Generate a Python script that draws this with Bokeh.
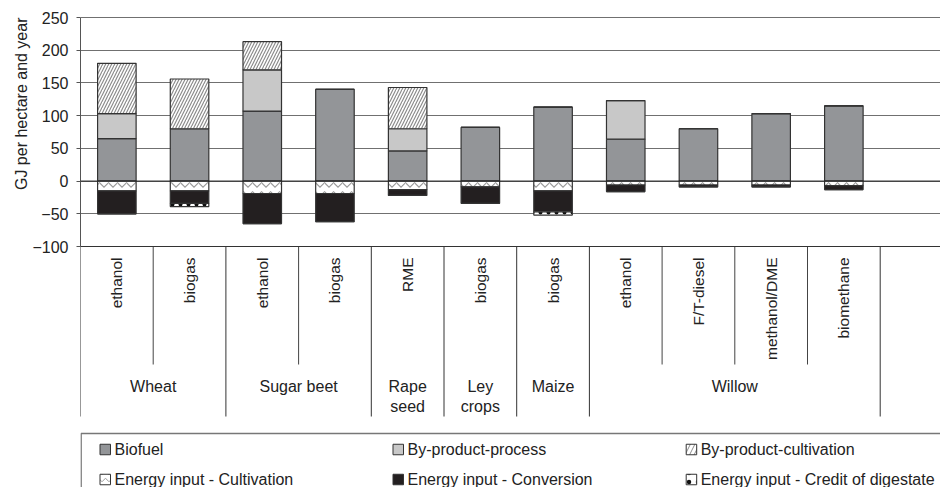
import numpy as np
from bokeh.plotting import figure
from bokeh.models import Range1d, FixedTicker, Span, ColumnDataSource, Title
from bokeh.core.properties import value
from bokeh.embed import file_html
from bokeh.resources import INLINE

# ---- data (GJ per hectare and year) ----
products = ["ethanol", "biogas", "ethanol", "biogas", "RME", "biogas", "biogas",
            "ethanol", "F/T-diesel", "methanol/DME", "biomethane"]
crops = ["Wheat", "Sugar beet", "Rape\nseed", "Ley\ncrops", "Maize", "Willow"]
crop_sizes = [2, 2, 1, 1, 1, 4]

biofuel = [65, 80, 107, 140, 46, 82, 113, 64, 80, 103, 115]
byproduct_process = [38, 0, 63, 0, 34, 0, 0, 59, 0, 0, 0]
byproduct_cultivation = [77, 76, 43, 0, 63, 0, 0, 0, 0, 0, 0]
input_cultivation = [15, 15, 19, 19, 13, 9, 15, 6, 6, 6, 7]
input_conversion = [35, 19, 46, 43, 9, 25, 32, 10, 3, 3, 6]
credit_digestate = [0, 5, 0, 0, 0, 0, 5, 0, 0, 0, 0]

y_ticks = [-100, -50, 0, 50, 100, 150, 200, 250]
y_title = "GJ per hectare and year"
legend_labels = ["Biofuel", "By-product-process", "By-product-cultivation",
                 "Energy input - Cultivation", "Energy input - Conversion",
                 "Energy input - Credit of digestate"]

# ---- layout helpers ----
W, H = 940, 487
LEFT = 80            # left edge of the plotting frame (px)
SLOT = 72.7          # px per category slot
PX_PER_GJ = 229 / 350
Y_TOP_PX = 17        # pixel row of the 250 gridline
FONT = "Liberation Sans"
TXT = "#222222"

x_end = (W - LEFT) / SLOT
y_hi = 250 + Y_TOP_PX / PX_PER_GJ
y_lo = 250 - (H - Y_TOP_PX) / PX_PER_GJ


def xpx(px):
    return (px - LEFT) / SLOT


def ypx(py):
    return 250 - (py - Y_TOP_PX) / PX_PER_GJ


n = len(products)
centers = [i + 0.5 for i in range(n)]

p = figure(width=W, height=H, x_range=Range1d(0, x_end), y_range=Range1d(y_lo, y_hi),
           output_backend="svg", toolbar_location=None, x_axis_location=None,
           min_border_left=LEFT, min_border_right=0, min_border_top=0, min_border_bottom=0)
p.outline_line_color = None
p.xgrid.visible = False

ticker = FixedTicker(ticks=y_ticks)
ax = p.yaxis[0]
ax.ticker = ticker
ax.bounds = (-100, 250)
ax.axis_line_color = "#555555"
ax.major_tick_line_color = "#555555"
ax.major_tick_out = 4
ax.major_tick_in = 0
ax.minor_tick_line_color = None
ax.major_label_standoff = 8
ax.major_label_text_font = FONT
ax.major_label_text_font_size = "16px"
ax.major_label_text_color = TXT

# vertical axis title, placed in the left panel next to the tick labels
p.add_layout(Title(text=y_title, align="right", offset=Y_TOP_PX,
                   text_font=FONT, text_font_size="16px", text_font_style="normal",
                   text_color=TXT, standoff=0), "left")

p.ygrid.ticker = ticker
p.ygrid.bounds = (-100, 250)
p.ygrid.grid_line_color = "#707070"
p.ygrid.grid_line_width = 1

p.add_layout(Span(location=0, dimension="width", line_color="#222222", line_width=1))
p.add_layout(Span(location=-100, dimension="width", line_color="#333333", line_width=1))

# ---- stacked bars ----
src = ColumnDataSource(dict(
    x=centers,
    biofuel=biofuel,
    process=byproduct_process,
    cult_bp=byproduct_cultivation,
    neg_cult=[-v for v in input_cultivation],
    neg_conv=[-v for v in input_conversion],
    neg_credit=[-v for v in credit_digestate],
))

BAR_W = 0.53
p.vbar_stack(["biofuel", "process", "cult_bp"], x="x", width=BAR_W, source=src,
             fill_color=["#939598", "#c8c8c8", "white"],
             line_color="#333333", line_width=1.2,
             hatch_pattern=[" ", " ", "/"], hatch_color="#8c8c8c",
             hatch_scale=6, hatch_weight=1.2)
p.vbar_stack(["neg_cult", "neg_conv", "neg_credit"], x="x", width=BAR_W, source=src,
             fill_color=["white", "#231f20", "white"],
             line_color="#333333", line_width=1.2,
             hatch_pattern=["v", " ", "."], hatch_color=["#9a9a9a", "#9a9a9a", "#111111"],
             hatch_scale=[9, 6, 8], hatch_weight=[1.2, 1.2, 1.5])

# ---- category axis (two levels) ----
edges = list(np.cumsum([0] + crop_sizes))
sub_edges = [e for e in range(1, n) if e not in edges]
p.segment(x0=sub_edges, y0=[-100] * len(sub_edges), x1=sub_edges,
          y1=[ypx(364)] * len(sub_edges), line_color="#444444", line_width=1)
p.segment(x0=edges, y0=[-100] * len(edges), x1=edges,
          y1=[ypx(416)] * len(edges), line_color="#333333", line_width=1)

p.text(x=centers, y=[ypx(257)] * n, text=products, angle=np.pi / 2,
       text_align="right", text_baseline="middle", text_font=value(FONT),
       text_font_size="15.5px", text_color=TXT)

group_centers = [(edges[i] + edges[i + 1]) / 2 for i in range(len(crops))]
p.text(x=group_centers, y=[ypx(377)] * len(crops), text=crops,
       text_align="center", text_baseline="top", text_font=value(FONT),
       text_font_size="16px", text_color=TXT, text_line_height=1.2)

# ---- legend ----
p.quad(left=xpx(80.6), right=x_end + 1, top=ypx(433), bottom=y_lo - 50,
       fill_color=None, line_color="#777777", line_width=1.5)

styles = [
    dict(fill_color="#939598", hatch_pattern=" "),
    dict(fill_color="#c8c8c8", hatch_pattern=" "),
    dict(fill_color="white", hatch_pattern="/", hatch_color="#8c8c8c", hatch_scale=9, hatch_weight=1),
    dict(fill_color="white", hatch_pattern="v", hatch_color="#9a9a9a", hatch_scale=7, hatch_weight=1),
    dict(fill_color="#231f20", hatch_pattern=" "),
    dict(fill_color="white", hatch_pattern=".", hatch_color="#111111", hatch_scale=9, hatch_weight=1),
]
col_left = [99.5, 392.5, 685.7]
row_mid = [449, 479]
for k, (lab, st) in enumerate(zip(legend_labels, styles)):
    r, c = divmod(k, 3)
    p.rect(x=[xpx(col_left[c] + 5.25)], y=[ypx(row_mid[r])], width=10.5, height=10.5,
           width_units="screen", height_units="screen",
           line_color="#333333", line_width=1, **st)
    p.text(x=[xpx(col_left[c] + 14.5)], y=[ypx(row_mid[r])], text=[lab],
           text_align="left", text_baseline="middle", text_font=value(FONT),
           text_font_size="16px", text_color=TXT)

open("out.html", "w").write(file_html(p, INLINE))
